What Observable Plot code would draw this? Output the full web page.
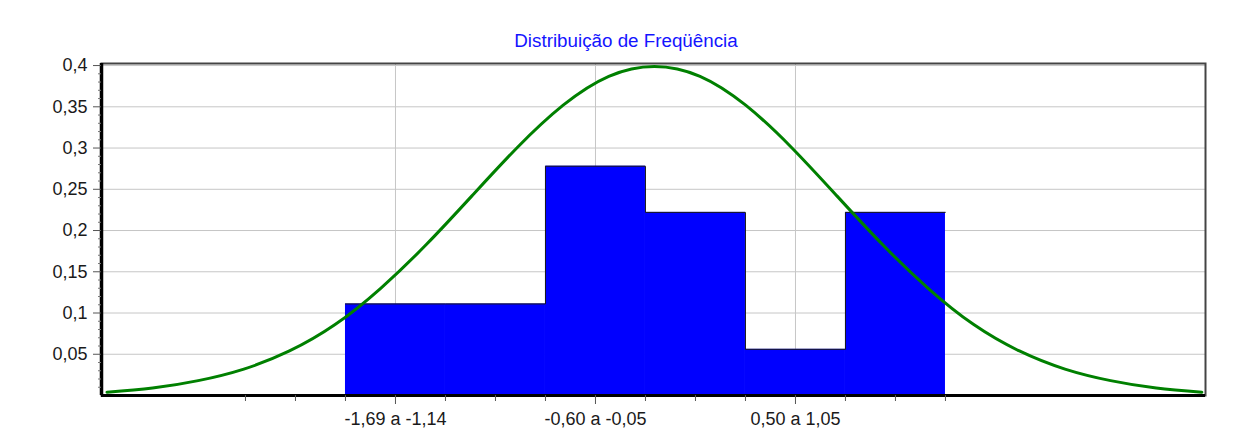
<!DOCTYPE html>
<html><head><meta charset="utf-8">
<script src="https://cdn.jsdelivr.net/npm/d3@7"></script>
<script src="https://cdn.jsdelivr.net/npm/@observablehq/plot@0.6"></script>
<style>
body{margin:0;background:#fff;}
#wrap{position:relative;width:1241px;height:445px;overflow:hidden;}
#title{position:absolute;left:0;top:30px;width:1252px;text-align:center;font:18.8px "Liberation Sans",Arial,sans-serif;color:#1414ff;z-index:2;}
#wrap svg{position:absolute;left:0;top:0;}
</style></head><body><div id="wrap"><div id="title">Distribuição de Freqüência</div></div>
<script>
// histogram bins (class edges) and relative frequencies
const binEdges = [-1.693, -1.145, -0.597, -0.049, 0.499, 1.047, 1.595];
const relFreq = [0.111, 0.111, 0.278, 0.222, 0.056, 0.222];
// labelled x ticks (class centres) and their labels
const xLabelTicks = [-1.419, -0.323, 0.773];
const xLabels = ["-1,69 a -1,14", "-0,60 a -0,05", "0,50 a 1,05"];
const xMinorTicks = [-2.241, -1.967, -1.693, -1.145, -0.871, -0.597, -0.049, 0.225, 0.499, 1.047, 1.321, 1.595];
// y ticks
const yTicks = [0.05, 0.1, 0.15, 0.2, 0.25, 0.3, 0.35, 0.4];
const yMinorTicks = [0.01,0.02,0.03,0.04,0.06,0.07,0.08,0.09,0.11,0.12,0.13,0.14,0.16,0.17,0.18,0.19,0.21,0.22,0.23,0.24,0.26,0.27,0.28,0.29,0.31,0.32,0.33,0.34,0.36,0.37,0.38,0.39];
// fitted normal curve
const curveX = [-3, -2.75, -2.5, -2.25, -2, -1.75, -1.5, -1.25, -1, -0.75, -0.5, -0.25, 0, 0.25, 0.5, 0.75, 1, 1.25, 1.5, 1.75, 2, 2.25, 2.5, 2.75, 3];
const curveY = [0.004, 0.009, 0.018, 0.032, 0.054, 0.086, 0.130, 0.183, 0.242, 0.301, 0.352, 0.387, 0.399, 0.387, 0.352, 0.301, 0.242, 0.183, 0.130, 0.086, 0.054, 0.032, 0.018, 0.009, 0.004];

const bins = relFreq.map((f, i) => ({x1: binEdges[i], x2: binEdges[i + 1], f}));
const outline = binEdges.map((e, i) => ({x: e, y: relFreq[Math.min(i, relFreq.length - 1)]}));
const curve = curveX.map((x, i) => ({x, y: curveY[i]}));
const xMin = -3.03, xMax = 3.02;

const chart = Plot.plot({
  width: 1241, height: 445,
  marginLeft: 101, marginRight: 36, marginTop: 63, marginBottom: 50,
  x: {domain: [xMin, xMax]},
  y: {domain: [0, 0.4025]},
  style: {fontFamily: '"Liberation Sans", Arial, sans-serif', fontSize: "18px", color: "#1a1a1a", background: "transparent"},
  marks: [
    Plot.gridY(yTicks, {stroke: "#c6c6c6", strokeOpacity: 1}),
    Plot.gridX(xLabelTicks, {stroke: "#c6c6c6", strokeOpacity: 1}),
    Plot.rectY(bins, {x1: "x1", x2: "x2", y: "f", fill: "#0000ff"}),
    Plot.line(outline, {x: "x", y: "y", curve: "step-after", stroke: "#1a1a1a", strokeWidth: 1}),
    Plot.line(curve, {x: "x", y: "y", curve: "natural", stroke: "#008000", strokeWidth: 3}),
    Plot.frame({stroke: "#444", strokeWidth: 2}),
    Plot.ruleX([xMin], {stroke: "#000", strokeWidth: 3.5}),
    Plot.ruleY([0], {stroke: "#000", strokeWidth: 3}),
    Plot.axisY(yTicks, {tickSize: 8, tickPadding: 6, tickFormat: d => String(d).replace(".", ","), stroke: "#555"}),
    Plot.axisY(yMinorTicks, {tickSize: 3, tickFormat: () => "", stroke: "#777"}),
    Plot.axisX(xMinorTicks, {tickSize: 6, tickFormat: () => "", stroke: "#555"}),
    Plot.axisX(xLabelTicks, {tickSize: 9, tickPadding: 8, tickFormat: (d, i) => xLabels[i], stroke: "#555"})
  ]
});
document.getElementById("wrap").appendChild(chart);
</script>
</body></html>
